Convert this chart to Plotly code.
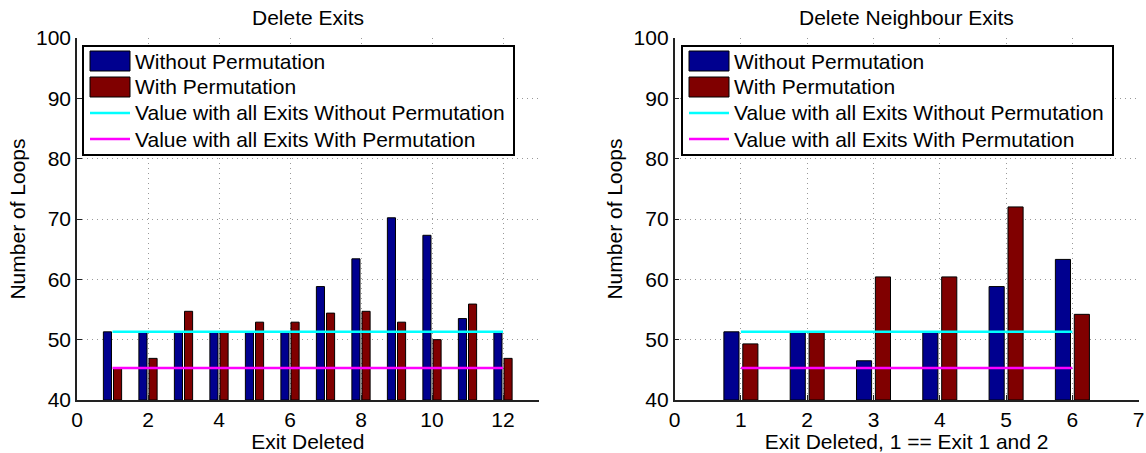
import plotly.graph_objects as go

# ---------------- data ----------------
exits_left = [1, 2, 3, 4, 5, 6, 7, 8, 9, 10, 11, 12]
without_left = [51.3, 51.3, 51.3, 51.3, 51.3, 51.3, 58.8, 63.4, 70.2, 67.3, 53.5, 51.3]
with_left = [45.3, 46.9, 54.7, 51.3, 52.9, 52.9, 54.4, 54.7, 52.9, 50.0, 55.9, 46.9]

exits_right = [1, 2, 3, 4, 5, 6]
without_right = [51.3, 51.3, 46.5, 51.3, 58.8, 63.3]
with_right = [49.3, 51.3, 60.4, 60.4, 72.0, 54.2]

all_exits_without = 51.3
all_exits_with = 45.3

titles = ["Delete Exits", "Delete Neighbour Exits"]
xlabels = ["Exit Deleted", "Exit Deleted, 1 == Exit 1 and 2"]
ylabel = "Number of Loops"
legend_labels = ["Without Permutation", "With Permutation",
                 "Value with all Exits Without Permutation",
                 "Value with all Exits With Permutation"]
yticks = [40, 50, 60, 70, 80, 90, 100]
xticks_left = [0, 2, 4, 6, 8, 10, 12]
xticks_right = [0, 1, 2, 3, 4, 5, 6, 7]

# ---------------- style ----------------
W, H = 1146, 453
BLUE = "rgb(0,0,143)"
RED = "rgb(128,0,0)"
CYAN = "rgb(0,255,255)"
MAGENTA = "rgb(255,0,255)"
FONT = "Liberation Sans, Arial, Helvetica, sans-serif"
FS = 21


def px(x):
    return x / W


def py(y):
    return 1 - y / H


fig = go.Figure()

panels = [
    (exits_left, without_left, with_left, "x", "y"),
    (exits_right, without_right, with_right, "x2", "y2"),
]
for ex, wo, wi, xa, ya in panels:
    fig.add_trace(go.Bar(x=ex, y=[v - 40 for v in wo], base=40, xaxis=xa, yaxis=ya,
                         marker=dict(color=BLUE, line=dict(color="black", width=1)),
                         offsetgroup="a", showlegend=False, name=legend_labels[0]))
    fig.add_trace(go.Bar(x=ex, y=[v - 40 for v in wi], base=40, xaxis=xa, yaxis=ya,
                         marker=dict(color=RED, line=dict(color="black", width=1)),
                         offsetgroup="b", showlegend=False, name=legend_labels[1]))
    fig.add_trace(go.Scatter(x=[ex[0], ex[-1]], y=[all_exits_without] * 2, xaxis=xa, yaxis=ya,
                             mode="lines", line=dict(color=CYAN, width=2.5),
                             showlegend=False, name=legend_labels[2]))
    fig.add_trace(go.Scatter(x=[ex[0], ex[-1]], y=[all_exits_with] * 2, xaxis=xa, yaxis=ya,
                             mode="lines", line=dict(color=MAGENTA, width=2.5),
                             showlegend=False, name=legend_labels[3]))

axis_common = dict(
    showline=True, linecolor="#222", linewidth=1.5, mirror=False,
    showgrid=True, gridcolor="#999999", griddash="1px,4px", gridwidth=1,
    ticks="inside", ticklen=5, tickcolor="#222",
    tickfont=dict(family=FONT, size=FS, color="black"),
    zeroline=False, automargin=False,
)

ydom = [py(400), py(38)]
fig.update_layout(
    width=W, height=H,
    margin=dict(l=0, r=0, t=0, b=0, autoexpand=False),
    paper_bgcolor="white", plot_bgcolor="white",
    barmode="group", bargap=0.43, bargroupgap=0.2,
    font=dict(family=FONT, size=FS, color="black"),
    showlegend=False,
    xaxis=dict(domain=[px(77), px(538.5)], range=[0, 13], tickvals=xticks_left,
               anchor="y", title=dict(text=xlabels[0], standoff=0,
                                      font=dict(family=FONT, size=FS)), **axis_common),
    yaxis=dict(domain=ydom, range=[40, 100], tickvals=yticks, anchor="x",
               title=dict(text=ylabel, standoff=5, font=dict(family=FONT, size=FS)),
               **axis_common),
    xaxis2=dict(domain=[px(674.6), px(1138.7)], range=[0, 7], tickvals=xticks_right,
                anchor="y2", title=dict(text=xlabels[1], standoff=0,
                                        font=dict(family=FONT, size=FS)), **axis_common),
    yaxis2=dict(domain=ydom, range=[40, 100], tickvals=yticks, anchor="x2",
                title=dict(text=ylabel, standoff=5, font=dict(family=FONT, size=FS)),
                **axis_common),
)

# subplot titles
for title, cx in zip(titles, [(77 + 538.5) / 2, (674.6 + 1138.7) / 2]):
    fig.add_annotation(text=title, x=px(cx), y=py(18), xref="paper", yref="paper",
                       showarrow=False, xanchor="center", yanchor="middle",
                       font=dict(family=FONT, size=FS, color="black"))

# legends (MATLAB style boxes)
shapes = []
for left in [83, 682]:
    right = left + 431
    shapes.append(dict(type="rect", xref="paper", yref="paper",
                       x0=px(left), x1=px(right), y0=py(155), y1=py(46),
                       line=dict(color="black", width=2), fillcolor="white", layer="above"))
    sx0, sx1 = left + 7, left + 47
    for color, (y0, y1) in [(BLUE, (51, 71)), (RED, (77, 97))]:
        shapes.append(dict(type="rect", xref="paper", yref="paper",
                           x0=px(sx0), x1=px(sx1), y0=py(y1), y1=py(y0),
                           line=dict(color="black", width=1), fillcolor=color, layer="above"))
    for color, yl in [(CYAN, 113), (MAGENTA, 139)]:
        shapes.append(dict(type="line", xref="paper", yref="paper",
                           x0=px(sx0), x1=px(sx1), y0=py(yl), y1=py(yl),
                           line=dict(color=color, width=2.5), layer="above"))
    for label, yc in zip(legend_labels, [61, 87, 113, 139]):
        fig.add_annotation(text=label, x=px(left + 50), y=py(yc), xref="paper", yref="paper",
                           showarrow=False, xanchor="left", yanchor="middle",
                           font=dict(family=FONT, size=FS, color="black"))
fig.update_layout(shapes=shapes)

fig.write_html("out.html",
               config={"displayModeBar": False},
               post_script="document.body.style.margin='0px';"
                           "document.body.style.padding='0px';"
                           "document.body.style.overflow='hidden';")
